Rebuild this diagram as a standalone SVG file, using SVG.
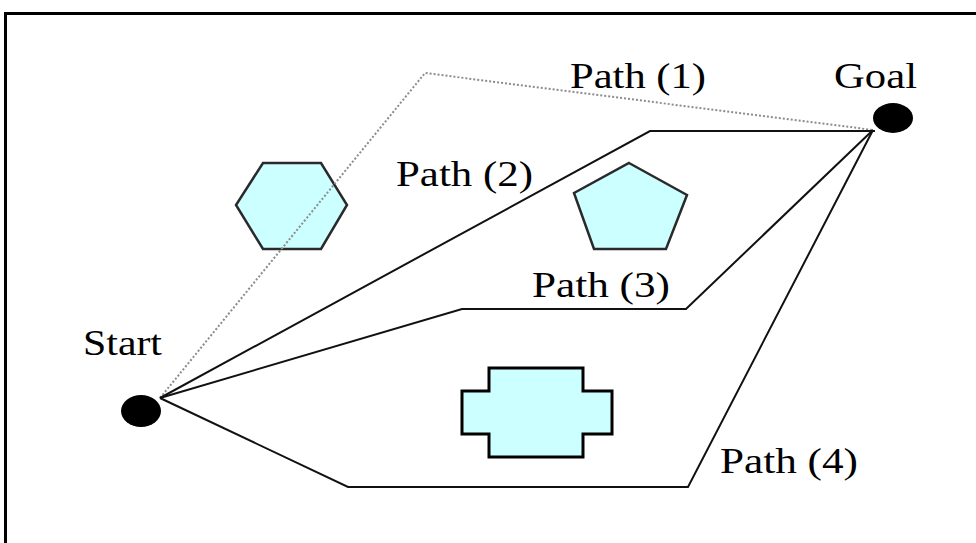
<svg xmlns="http://www.w3.org/2000/svg" width="976" height="543" viewBox="0 0 976 543">
<style>
.lbl{font-family:"Liberation Serif","Times New Roman",serif;font-size:36px;fill:#000}
.obs{fill:#ccffff;stroke:#2a2a2a;stroke-width:2.5;stroke-linejoin:miter}
.path{fill:none;stroke:#111;stroke-width:2}
.dot{fill:#000}
</style>
<rect width="976" height="543" fill="#fff"/>
<path d="M5.5,543 V13.5 H976" fill="none" stroke="#000" stroke-width="3"/>
<g id="obstacle-hexagon"><polygon class="obs" points="263,163 321,163 347,205 321,249 263,249 236,205"/></g>
<g id="obstacle-pentagon"><polygon class="obs" points="629,163 687,195 666,249 594,249 574,193"/></g>
<g id="obstacle-cross"><polygon class="obs" style="stroke:#000;stroke-width:3" points="489,368 583,368 583,391 612,391 612,434 583,434 583,457 489,457 489,434 462,434 462,391 489,391"/></g>
<g id="connectors">
<polyline class="path" points="160,398 425,73 873,130" stroke-dasharray="2,2" stroke-width="1.8" style="stroke:#8c8c8c"/>
<polyline class="path" points="160,398 650,131 875,131"/>
<polyline class="path" points="160,398 462,309 686,309 873,130"/>
<polyline class="path" points="160,398 348,487 688,487 873,130"/>
</g>
<g id="start"><ellipse class="dot" cx="141" cy="411" rx="20" ry="16"/><text class="lbl" x="83" y="355" textLength="79" lengthAdjust="spacingAndGlyphs">Start</text></g>
<g id="goal"><ellipse class="dot" cx="893" cy="118" rx="20" ry="15"/><text class="lbl" x="834" y="88" textLength="83" lengthAdjust="spacingAndGlyphs">Goal</text></g>
<g id="label-path1"><text class="lbl" x="570" y="88" textLength="136" lengthAdjust="spacingAndGlyphs">Path (1)</text></g>
<g id="label-path2"><text class="lbl" x="396" y="186" textLength="137" lengthAdjust="spacingAndGlyphs">Path (2)</text></g>
<g id="label-path3"><text class="lbl" x="532" y="297" textLength="138" lengthAdjust="spacingAndGlyphs">Path (3)</text></g>
<g id="label-path4"><text class="lbl" x="720" y="473" textLength="138" lengthAdjust="spacingAndGlyphs">Path (4)</text></g>
</svg>
